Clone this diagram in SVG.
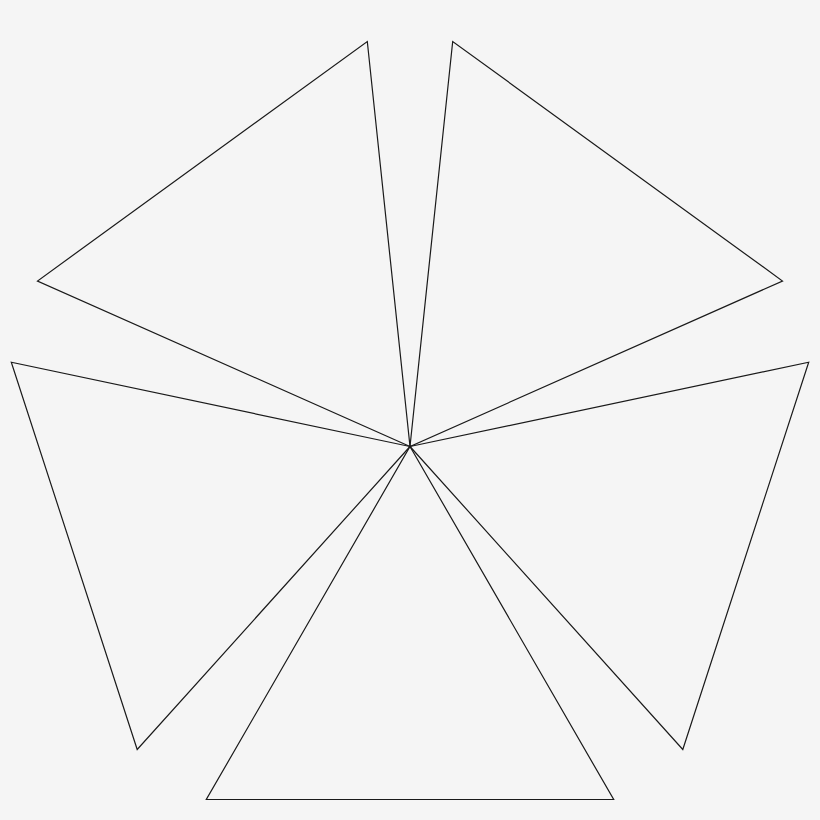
<svg xmlns="http://www.w3.org/2000/svg" width="820" height="820" viewBox="0 0 820 820">
<style>.t{fill:none;stroke:#1a1a1a;stroke-width:1.2;stroke-linejoin:miter}</style>
<rect width="820" height="820" fill="#f5f5f5"/>
<g id="tri-top-left"><polygon class="t" points="410,446.5 37.5,281 367.3,41.5"/></g>
<g id="tri-top-right"><polygon class="t" points="410,446.5 452.7,41.5 782.5,281"/></g>
<g id="tri-right"><polygon class="t" points="410,446.5 808.7,362.2 682.8,749.5"/></g>
<g id="tri-bottom"><polygon class="t" points="410,446.5 613.7,799.5 206.3,799.5"/></g>
<g id="tri-left"><polygon class="t" points="410,446.5 137.2,749.5 11.3,362.2"/></g>
</svg>
